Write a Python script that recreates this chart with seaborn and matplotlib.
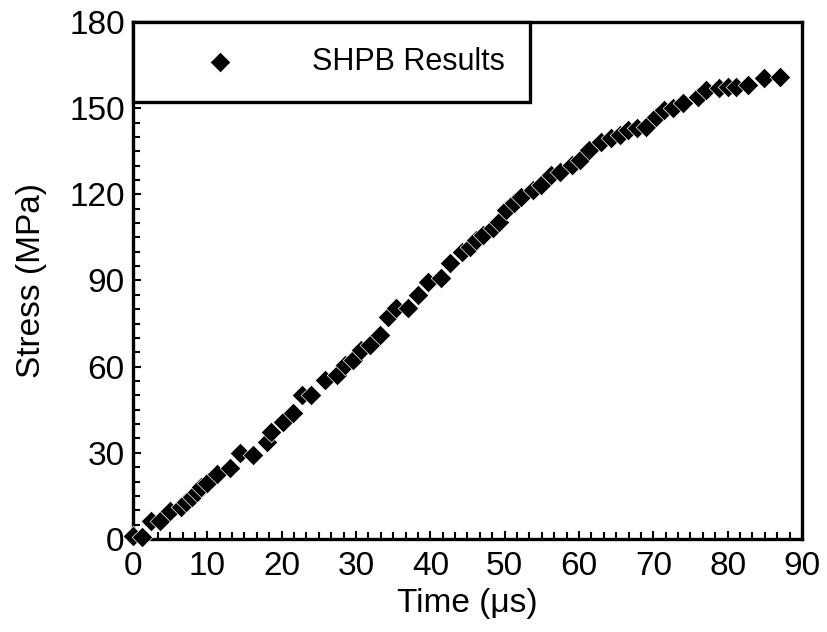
import matplotlib
matplotlib.use("Agg")
import matplotlib.pyplot as plt
import seaborn as sns
import pandas as pd
from matplotlib.ticker import MultipleLocator, AutoMinorLocator

# SHPB stress-time readings
time_us = [0.0, 1.2, 2.4, 3.7, 5.0, 6.5, 7.2, 7.9, 8.6, 9.2, 9.9, 11.3, 13.0,
           14.4, 16.2, 18.0, 18.6, 20.2, 21.5, 22.7, 24.0, 25.8, 27.4, 28.5,
           29.6, 30.7, 31.9, 33.2, 34.3, 35.4, 37.0, 38.3, 39.7, 41.5, 42.6,
           44.2, 45.3, 46.2, 47.1, 48.4, 49.3, 50.2, 51.2, 52.2, 53.8, 54.9,
           56.3, 57.4, 59.0, 60.1, 61.4, 63.0, 64.3, 65.5, 66.6, 67.8, 69.0,
           70.4, 71.5, 72.6, 74.0, 76.0, 77.1, 78.9, 80.0, 81.1, 82.7, 84.9,
           87.0]
stress_mpa = [1.0, 0.8, 6.4, 6.4, 9.9, 11.0, 13.0, 14.7, 16.5, 18.2, 19.4,
              22.5, 24.6, 29.8, 29.2, 33.9, 37.4, 40.8, 43.8, 50.1, 50.1, 55.4,
              57.1, 60.6, 62.3, 65.8, 67.5, 71.0, 77.4, 80.3, 80.3, 85.0, 89.6,
              90.8, 96.0, 100.0, 101.8, 104.1, 105.8, 108.2, 110.5, 114.6,
              117.0, 119.2, 121.5, 123.3, 126.7, 127.9, 130.2, 132.0, 135.4,
              138.3, 139.5, 140.7, 142.4, 143.0, 143.6, 147.0, 149.4, 150.0,
              151.7, 154.0, 156.3, 156.9, 157.5, 157.5, 158.1, 160.4, 161.0]
series_label = "SHPB Results"

df = pd.DataFrame({"Time": time_us, "Stress": stress_mpa})

sns.set_theme(style="white")
plt.rcParams["font.family"] = ["Liberation Sans", "DejaVu Sans"]
plt.rcParams["text.color"] = "black"
plt.rcParams["axes.labelcolor"] = "black"
plt.rcParams["xtick.color"] = "black"
plt.rcParams["ytick.color"] = "black"

fig = plt.figure(figsize=(8.28, 6.32), dpi=100)
ax = fig.add_axes([0.1606, 0.1472, 0.808, 0.8180])

sns.scatterplot(data=df, x="Time", y="Stress", marker="D", color="black",
                s=110, edgecolor="white", linewidth=0.5, label=series_label,
                clip_on=False, zorder=3, ax=ax)

ax.set_xlim(0, 90)
ax.set_ylim(0, 180)
ax.xaxis.set_major_locator(MultipleLocator(10))
ax.yaxis.set_major_locator(MultipleLocator(30))
ax.xaxis.set_minor_locator(AutoMinorLocator(6))
ax.yaxis.set_minor_locator(AutoMinorLocator(6))

ax.tick_params(which="both", direction="in", bottom=True, left=True,
               top=False, right=False, color="black", width=1.5,
               labelsize=24, labelcolor="black")
ax.tick_params(axis="x", which="major", length=6, pad=9)
ax.tick_params(axis="y", which="major", length=6, pad=6)
ax.tick_params(which="minor", length=5)

for sp in ax.spines.values():
    sp.set_color("black")
    sp.set_linewidth(2.4)

ax.set_xlabel("Time (\u03bcs)", fontsize=24, color="black", labelpad=4)
ax.set_ylabel("Stress (MPa)", fontsize=24, color="black", labelpad=16)

leg = ax.legend(loc="upper left", bbox_to_anchor=(0, 1), borderaxespad=0,
                fontsize=22, frameon=True, fancybox=False, framealpha=1,
                edgecolor="black", borderpad=0.82, handlelength=4.05,
                handletextpad=1.0, markerscale=1.0)
leg.get_frame().set_linewidth(2.4)
for t in leg.get_texts():
    t.set_color("black")

fig.savefig("out.png", dpi=100)
